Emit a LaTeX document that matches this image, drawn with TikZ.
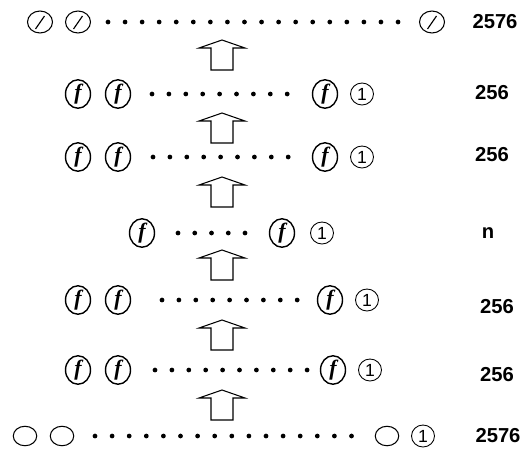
\documentclass[tikz,border=0pt]{standalone}
\usepackage{fontspec}
\setmainfont{Liberation Serif}
\setsansfont{Liberation Sans}
\usetikzlibrary{shapes.geometric}
\tikzset{
    slashcirc/.style={ellipse, draw, line width=0.6pt, minimum width=0.5cm, minimum height=0.44cm, inner sep=0pt,
        path picture={\draw[line width=0.65pt] ([xshift=-0.09cm,yshift=-0.14cm]path picture bounding box.center) -- ([xshift=0.09cm,yshift=0.12cm]path picture bounding box.center);}},
    fcirc/.style={ellipse, draw, line width=0.8pt, minimum width=0.5cm, minimum height=0.42cm, inner sep=0pt,
        font=\fontsize{12.5}{12.5}\selectfont\bfseries\itshape},
    onecirc/.style={ellipse, draw, line width=0.5pt, minimum width=0.46cm, minimum height=0.44cm, inner sep=0pt,
        font=\sffamily\fontsize{10}{10}\selectfont},
    emptycirc/.style={ellipse, draw, line width=0.6pt, minimum width=0.47cm, minimum height=0.39cm, inner sep=0pt},
    count/.style={font=\sffamily\bfseries\fontsize{11.5}{12}\selectfont}
}
\newcommand{\dotrow}[4]{\foreach \i in {1,...,#3} \fill ({#1+(\i-1)*#4},#2) circle (1.35pt);}
\newcommand{\uparr}[2]{\draw[line width=0.6pt] (#1-11,#2+30) -- (#1-11,#2+8) -- (#1-23,#2+8) -- (#1,#2) -- (#1+23,#2+8) -- (#1+11,#2+8) -- (#1+11,#2+30) -- cycle;}

\begin{document}
\begin{tikzpicture}[x=0.02cm, y=-0.02cm]
    \useasboundingbox (0,0) rectangle (527,450);

    % top row
    \node[slashcirc] (t1) at (40,22) {};
    \node[slashcirc] (t2) at (78,22) {};
    \dotrow{108}{22}{18}{17.06}
    \node[slashcirc] (t3) at (432,22) {};
    \node[count] (tn) at (495,22) {2576};

    \uparr{222}{40}

    % second row
    \node[fcirc] (a1) at (78,94) {f};
    \node[fcirc] (a2) at (118,94) {f};
    \dotrow{152}{94}{9}{16.9}
    \node[fcirc] (a3) at (325,94) {f};
    \node[onecirc] (a4) at (362,94) {1};
    \node[count] (an) at (492,93) {256};

    \uparr{222}{113}

    % third row
    \node[fcirc] (b1) at (78,157) {f};
    \node[fcirc] (b2) at (118,157) {f};
    \dotrow{153}{157}{9}{16.9}
    \node[fcirc] (b3) at (325,157) {f};
    \node[onecirc] (b4) at (362,157) {1};
    \node[count] (bn) at (492,155) {256};

    \uparr{222}{177}

    % middle row
    \node[fcirc] (c1) at (142,233) {f};
    \dotrow{178}{233}{5}{16.75}
    \node[fcirc] (c2) at (282,233) {f};
    \node[onecirc] (c3) at (322,233) {1};
    \node[count] (cn) at (488,233) {n};

    \uparr{222}{250}

    % fifth row
    \node[fcirc] (d1) at (78,300) {f};
    \node[fcirc] (d2) at (118,300) {f};
    \dotrow{162}{300}{9}{16.9}
    \node[fcirc] (d3) at (330,300) {f};
    \node[onecirc] (d4) at (367,300) {1};
    \node[count] (dn) at (497,307) {256};

    \uparr{222}{320}

    % sixth row
    \node[fcirc] (e1) at (78,370) {f};
    \node[fcirc] (e2) at (118,370) {f};
    \dotrow{155}{370}{10}{16.9}
    \node[fcirc] (e3) at (333,370) {f};
    \node[onecirc] (e4) at (370,370) {1};
    \node[count] (en) at (497,375) {256};

    \uparr{222}{390}

    % bottom row
    \node[emptycirc] (g1) at (25,436) {};
    \node[emptycirc] (g2) at (62,436) {};
    \dotrow{95}{436}{16}{17.1}
    \node[emptycirc] (g3) at (387,436) {};
    \node[onecirc] (g4) at (423,436) {1};
    \node[count] (gn) at (498,436) {2576};

\end{tikzpicture}
\end{document}
